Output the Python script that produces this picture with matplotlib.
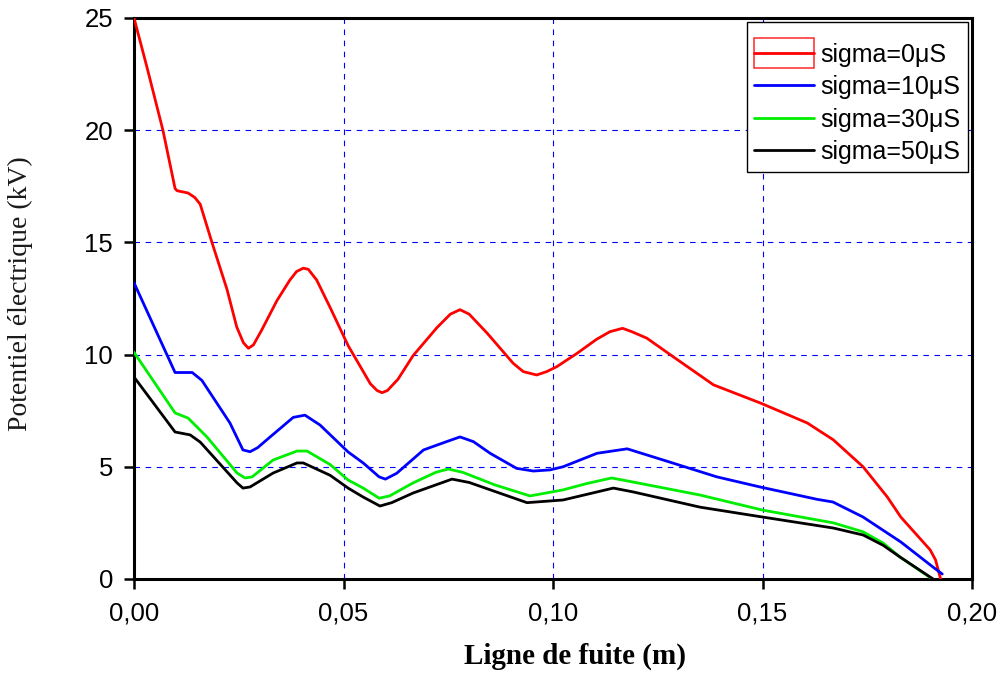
import numpy as np
import matplotlib
matplotlib.use("Agg")
import matplotlib.pyplot as plt
import matplotlib.patches as mpatches
from matplotlib.legend_handler import HandlerPatch, HandlerTuple

# --- data (x in m, potential in kV) ---
x_s0 = [0.0, 0.0031, 0.0069, 0.0098, 0.0103, 0.0129, 0.0145, 0.0158, 0.0186, 0.0222,
        0.0245, 0.0261, 0.0273, 0.0285, 0.0305, 0.0341, 0.0372, 0.0388, 0.0404, 0.0416,
        0.0436, 0.0468, 0.0511, 0.0564, 0.0580, 0.0592, 0.0605, 0.0630, 0.0666, 0.0723,
        0.0755, 0.0778, 0.0800, 0.0843, 0.0905, 0.0929, 0.0961, 0.0985, 0.1009, 0.1057,
        0.1104, 0.1136, 0.1166, 0.1188, 0.1224, 0.1287, 0.1383, 0.1495, 0.1607, 0.1669,
        0.174, 0.1798, 0.183, 0.190, 0.1913, 0.1925]
v_s0 = [25.0, 22.8, 20.0, 17.4, 17.3, 17.2, 17.0, 16.7, 15.0, 12.9,
        11.24, 10.53, 10.28, 10.43, 11.1, 12.4, 13.32, 13.7, 13.85, 13.8,
        13.32, 12.1, 10.4, 8.7, 8.4, 8.3, 8.4, 8.9, 9.95, 11.2,
        11.8, 12.0, 11.8, 10.95, 9.61, 9.24, 9.09, 9.24, 9.46, 10.05,
        10.68, 11.02, 11.17, 11.02, 10.73, 9.9, 8.65, 7.84, 6.95, 6.2,
        5.0, 3.65, 2.76, 1.3, 0.85, 0.0]

x_s10 = [0.0, 0.0098, 0.0139, 0.0162, 0.0229, 0.026, 0.0277, 0.0295, 0.0325, 0.038,
         0.0408, 0.0444, 0.0511, 0.0547, 0.0585, 0.0600, 0.0627, 0.0691, 0.0746, 0.0778,
         0.081, 0.085, 0.0913, 0.0953, 0.0993, 0.1024, 0.1105, 0.1177, 0.1263, 0.1391,
         0.1494, 0.163, 0.1668, 0.174, 0.183, 0.1907, 0.1929]
v_s10 = [13.2, 9.2, 9.2, 8.85, 6.95, 5.75, 5.67, 5.85, 6.33, 7.2,
         7.3, 6.86, 5.66, 5.17, 4.55, 4.45, 4.71, 5.75, 6.12, 6.33,
         6.12, 5.6, 4.93, 4.81, 4.86, 5.0, 5.6, 5.8, 5.3, 4.55,
         4.1, 3.55, 3.43, 2.76, 1.65, 0.53, 0.22]

x_s30 = [0.0, 0.0098, 0.0129, 0.0174, 0.0246, 0.0265, 0.0282, 0.0332, 0.0389, 0.0413,
         0.0468, 0.0511, 0.0547, 0.0585, 0.0610, 0.0666, 0.0720, 0.075, 0.0785, 0.0860,
         0.0945, 0.1024, 0.108, 0.114, 0.1191, 0.1351, 0.150, 0.1669, 0.174, 0.1788,
         0.1828, 0.1905]
v_s30 = [10.1, 7.4, 7.17, 6.33, 4.72, 4.5, 4.55, 5.3, 5.7, 5.7,
         5.1, 4.41, 4.05, 3.6, 3.7, 4.28, 4.75, 4.9, 4.75, 4.2,
         3.7, 3.97, 4.25, 4.5, 4.32, 3.74, 3.07, 2.5, 2.1, 1.6,
         0.98, 0.0]

x_s50 = [0.0, 0.0098, 0.0134, 0.0158, 0.0246, 0.026, 0.0277, 0.0332, 0.0389, 0.0404,
         0.0468, 0.0511, 0.0547, 0.0587, 0.0615, 0.0666, 0.0759, 0.0800, 0.0938, 0.1024,
         0.1144, 0.1191, 0.1351, 0.150, 0.1669, 0.174, 0.1788, 0.1828, 0.1907]
v_s50 = [9.0, 6.55, 6.42, 6.1, 4.28, 4.05, 4.1, 4.72, 5.17, 5.17,
         4.62, 4.05, 3.65, 3.25, 3.4, 3.83, 4.45, 4.3, 3.4, 3.52,
         4.05, 3.88, 3.2, 2.76, 2.27, 1.96, 1.5, 0.98, 0.0]

labels = ["sigma=0\u03bcS", "sigma=10\u03bcS", "sigma=30\u03bcS", "sigma=50\u03bcS"]
colors = ["#ff0000", "#0000ff", "#00ee00", "#000000"]

x_ticks = [0.0, 0.05, 0.10, 0.15, 0.20]
x_ticklabels = ["0,00", "0,05", "0,10", "0,15", "0,20"]
y_ticks = [0, 5, 10, 15, 20, 25]

fig = plt.figure(figsize=(10.03, 6.77), dpi=100)
ax = fig.add_axes([0.1336, 0.1448, 0.8355, 0.8287])

series = [(x_s0, v_s0), (x_s10, v_s10), (x_s30, v_s30), (x_s50, v_s50)]
lines = []
for (xs, vs), c in zip(series, colors):
    ln, = ax.plot(xs, vs, color=c, linewidth=2.0, zorder=3,
                  solid_joinstyle="round", solid_capstyle="round")
    lines.append(ln)

ax.set_xlim(0, 0.20)
ax.set_ylim(0, 25)
ax.set_xticks(x_ticks)
ax.set_xticklabels(x_ticklabels)
ax.set_yticks(y_ticks)

ax.grid(True, color="#0000ff", linestyle=(0, (5, 5)), linewidth=0.8)
ax.set_axisbelow(True)

for s in ax.spines.values():
    s.set_linewidth(2.2)
    s.set_color("black")

ax.tick_params(direction="out", length=7, width=1.8, labelsize=18.5, colors="black")
ax.tick_params(axis="x", pad=9)
ax.tick_params(axis="y", pad=8)
for t in ax.get_xticklabels() + ax.get_yticklabels():
    t.set_fontfamily("Liberation Sans")

ax.set_xlabel("Ligne de fuite (m)", fontfamily="Liberation Serif", fontsize=21,
              fontweight="bold")
ax.xaxis.set_label_coords(0.526, -0.113)
ax.set_ylabel("Potentiel \u00e9lectrique (kV)", fontfamily="Liberation Serif",
              fontsize=20, color="#1a1a1a")
ax.yaxis.set_label_coords(-0.121, 0.508)

# legend: first entry drawn as a red box with a line through it
def tall_rect(legend, orig_handle, xdescent, ydescent, width, height, fontsize):
    return mpatches.Rectangle((-xdescent, -ydescent - 0.35 * height), width, height * 1.7)

box = mpatches.Rectangle((0, 0), 1, 1, facecolor="none", edgecolor="#ff3a3a", linewidth=1.2)
handles = [(box, lines[0])] + lines[1:]
leg = ax.legend(handles, labels, loc="upper right", bbox_to_anchor=(1.0, 1.0),
                borderaxespad=0.15, frameon=True, fancybox=False, framealpha=1,
                edgecolor="black", handlelength=2.4, handletextpad=0.25,
                labelspacing=0.34, borderpad=0.3, title=" ", title_fontsize=4,
                prop={"family": "Liberation Sans", "size": 18},
                handler_map={tuple: HandlerTuple(ndivide=1),
                             mpatches.Rectangle: HandlerPatch(patch_func=tall_rect)})
leg.get_frame().set_linewidth(1.0)

fig.savefig("out.png", dpi=100)
